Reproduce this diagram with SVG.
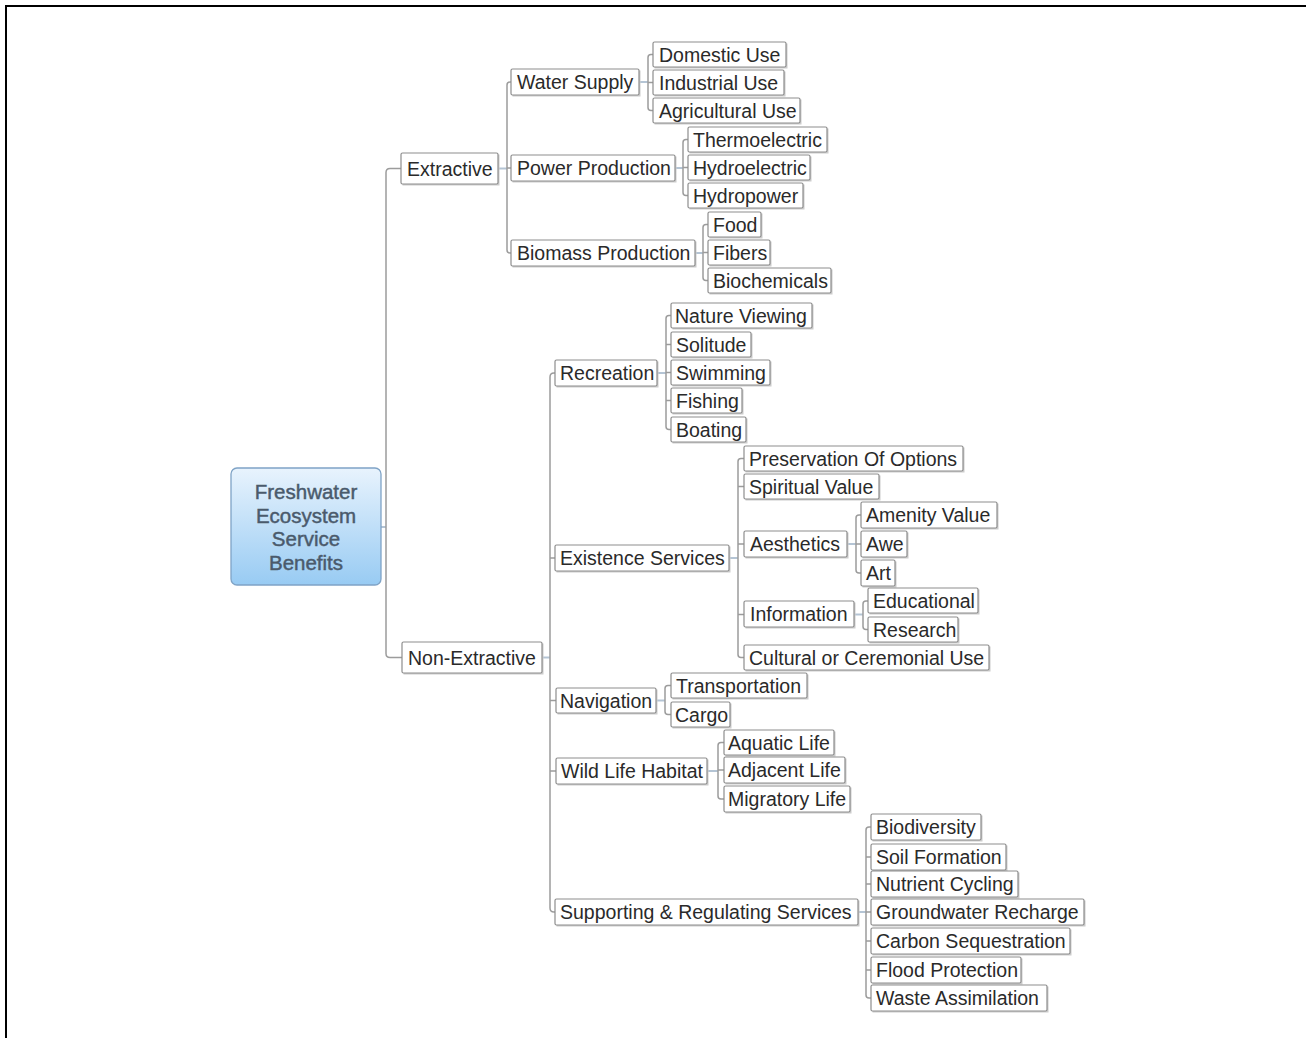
<svg xmlns="http://www.w3.org/2000/svg" width="1306" height="1038" viewBox="0 0 1306 1038">
<defs>
<linearGradient id="rootGrad" x1="0" y1="0" x2="0" y2="1">
<stop offset="0" stop-color="#e8f3fd"/>
<stop offset="1" stop-color="#98cbf3"/>
</linearGradient>
<style>
.sh{fill:#cccccc}
.bx{fill:#ffffff;stroke:#8e8e8e;stroke-width:1.2}
.t{font-family:"Liberation Sans",Arial,sans-serif;font-size:19.5px;fill:#2a2a2a}
.rt{font-family:"Liberation Sans",Arial,sans-serif;font-size:20.5px;fill:#4a5a6c;stroke:#4a5a6c;stroke-width:0.45;text-anchor:middle}
.c{fill:none;stroke:#9c9c9c;stroke-width:1.5}
.s{fill:none;stroke:#b4c4d4;stroke-width:2}
</style>
</defs>
<rect width="1306" height="1038" fill="#ffffff"/>
<path d="M6 1038 V6 H1306" fill="none" stroke="#000" stroke-width="2"/>

<g id="connectors">
<path class="s" d="M381 527 H386"/>
<path class="c" d="M401 168.5 H390 Q386 168.5 386 172.5 V653.5 Q386 657.5 390 657.5 H402"/>
<path class="s" d="M498 168.5 H507"/>
<path class="c" d="M511 82 H510 Q507 82 507 85 V250 Q507 253 510 253 H511 M507 168 H511"/>
<path class="s" d="M639 82 H648"/>
<path class="c" d="M653 54.5 H651 Q648 54.5 648 57.5 V107.5 Q648 110.5 651 110.5 H653 M648 82.5 H653"/>
<path class="s" d="M675 168 H683"/>
<path class="c" d="M688 139.5 H686 Q683 139.5 683 142.5 V192.5 Q683 195.5 686 195.5 H688 M683 167.5 H688"/>
<path class="s" d="M695 253 H703"/>
<path class="c" d="M708 224.5 H706 Q703 224.5 703 227.5 V277.5 Q703 280.5 706 280.5 H708 M703 252.5 H708"/>
<path class="s" d="M542 657.5 H550"/>
<path class="c" d="M555 373 H554 Q550 373 550 377 V908 Q550 912 554 912 H555 M550 558 H555 M550 700.5 H556 M550 771 H556"/>
<path class="s" d="M657 373 H666"/>
<path class="c" d="M671 315.5 H669 Q666 315.5 666 318.5 V426.5 Q666 429.5 669 429.5 H671 M666 344.5 H671 M666 372.5 H671 M666 400.5 H671"/>
<path class="s" d="M729 558 H738"/>
<path class="c" d="M744 458.5 H741 Q738 458.5 738 461.5 V654.5 Q738 657.5 741 657.5 H744 M738 486.5 H744 M738 544 H744 M738 614.5 H744"/>
<path class="s" d="M847 544 H856"/>
<path class="c" d="M861 515 H859 Q856 515 856 518 V570 Q856 573 859 573 H861 M856 544 H861"/>
<path class="s" d="M854 614.5 H863"/>
<path class="c" d="M868 601 H866 Q863 601 863 604 V626.5 Q863 629.5 866 629.5 H868"/>
<path class="s" d="M656 700.5 H665"/>
<path class="c" d="M671 685.5 H668 Q665 685.5 665 688.5 V711.5 Q665 714.5 668 714.5 H671"/>
<path class="s" d="M707 771 H718"/>
<path class="c" d="M724 742.5 H721 Q718 742.5 718 745.5 V796 Q718 799 721 799 H724 M718 770 H724"/>
<path class="s" d="M858 912 H866"/>
<path class="c" d="M871 827 H869 Q866 827 866 830 V995 Q866 998 869 998 H871 M866 857 H871 M866 884 H871 M866 912 H871 M866 941 H871 M866 970 H871"/>
</g>

<g id="root">
<rect x="231" y="468" width="150" height="117" rx="6" fill="url(#rootGrad)" stroke="#7fa3c6" stroke-width="1.3"/>
<text class="rt" x="306" y="499">Freshwater</text>
<text class="rt" x="306" y="522.5">Ecosystem</text>
<text class="rt" x="306" y="546">Service</text>
<text class="rt" x="306" y="569.5">Benefits</text>
</g>

<g id="n-extractive"><rect class="sh" x="402.5" y="154.5" width="97" height="31"/><rect class="bx" x="401" y="153" width="97" height="31" rx="1.5"/><text class="t" x="407" y="175.5">Extractive</text></g>
<g id="n-nonextractive"><rect class="sh" x="403.5" y="643.5" width="140" height="31"/><rect class="bx" x="402" y="642" width="140" height="31" rx="1.5"/><text class="t" x="408" y="664.5">Non-Extractive</text></g>

<g id="n-water"><rect class="sh" x="512.5" y="70.5" width="128" height="26"/><rect class="bx" x="511" y="69" width="128" height="26" rx="1.5"/><text class="t" x="517" y="89">Water Supply</text></g>
<g id="n-power"><rect class="sh" x="512.5" y="156.5" width="164" height="26"/><rect class="bx" x="511" y="155" width="164" height="26" rx="1.5"/><text class="t" x="517" y="175">Power Production</text></g>
<g id="n-biomass"><rect class="sh" x="512.5" y="241.5" width="184" height="26"/><rect class="bx" x="511" y="240" width="184" height="26" rx="1.5"/><text class="t" x="517" y="260">Biomass Production</text></g>

<g id="n-domestic"><rect class="sh" x="654.5" y="43.5" width="133" height="25"/><rect class="bx" x="653" y="42" width="133" height="25" rx="1.5"/><text class="t" x="659" y="61.5">Domestic Use</text></g>
<g id="n-industrial"><rect class="sh" x="654.5" y="71.5" width="131" height="25"/><rect class="bx" x="653" y="70" width="131" height="25" rx="1.5"/><text class="t" x="659" y="89.5">Industrial Use</text></g>
<g id="n-agricultural"><rect class="sh" x="654.5" y="99.5" width="147" height="25"/><rect class="bx" x="653" y="98" width="147" height="25" rx="1.5"/><text class="t" x="659" y="117.5">Agricultural Use</text></g>

<g id="n-thermo"><rect class="sh" x="689.5" y="128.5" width="139" height="25"/><rect class="bx" x="688" y="127" width="139" height="25" rx="1.5"/><text class="t" x="693" y="146.5">Thermoelectric</text></g>
<g id="n-hydroelectric"><rect class="sh" x="689.5" y="156.5" width="122" height="25"/><rect class="bx" x="688" y="155" width="122" height="25" rx="1.5"/><text class="t" x="693" y="174.5">Hydroelectric</text></g>
<g id="n-hydropower"><rect class="sh" x="689.5" y="184.5" width="115" height="25"/><rect class="bx" x="688" y="183" width="115" height="25" rx="1.5"/><text class="t" x="693" y="202.5">Hydropower</text></g>

<g id="n-food"><rect class="sh" x="709.5" y="213.5" width="53" height="25"/><rect class="bx" x="708" y="212" width="53" height="25" rx="1.5"/><text class="t" x="713" y="231.5">Food</text></g>
<g id="n-fibers"><rect class="sh" x="709.5" y="241.5" width="62" height="25"/><rect class="bx" x="708" y="240" width="62" height="25" rx="1.5"/><text class="t" x="713" y="259.5">Fibers</text></g>
<g id="n-biochemicals"><rect class="sh" x="709.5" y="269.5" width="123" height="25"/><rect class="bx" x="708" y="268" width="123" height="25" rx="1.5"/><text class="t" x="713" y="287.5">Biochemicals</text></g>

<g id="n-recreation"><rect class="sh" x="556.5" y="361.5" width="102" height="26"/><rect class="bx" x="555" y="360" width="102" height="26" rx="1.5"/><text class="t" x="560" y="380">Recreation</text></g>
<g id="n-nature"><rect class="sh" x="672.5" y="304.5" width="141" height="25"/><rect class="bx" x="671" y="303" width="141" height="25" rx="1.5"/><text class="t" x="675" y="322.5">Nature Viewing</text></g>
<g id="n-solitude"><rect class="sh" x="672.5" y="333.5" width="80" height="25"/><rect class="bx" x="671" y="332" width="80" height="25" rx="1.5"/><text class="t" x="676" y="351.5">Solitude</text></g>
<g id="n-swimming"><rect class="sh" x="672.5" y="361.5" width="99" height="25"/><rect class="bx" x="671" y="360" width="99" height="25" rx="1.5"/><text class="t" x="676" y="379.5">Swimming</text></g>
<g id="n-fishing"><rect class="sh" x="672.5" y="389.5" width="71" height="25"/><rect class="bx" x="671" y="388" width="71" height="25" rx="1.5"/><text class="t" x="676" y="407.5">Fishing</text></g>
<g id="n-boating"><rect class="sh" x="672.5" y="418.5" width="75" height="25"/><rect class="bx" x="671" y="417" width="75" height="25" rx="1.5"/><text class="t" x="676" y="436.5">Boating</text></g>

<g id="n-existence"><rect class="sh" x="556.5" y="546.5" width="174" height="26"/><rect class="bx" x="555" y="545" width="174" height="26" rx="1.5"/><text class="t" x="560" y="565">Existence Services</text></g>
<g id="n-preservation"><rect class="sh" x="745.5" y="447.5" width="219" height="25"/><rect class="bx" x="744" y="446" width="219" height="25" rx="1.5"/><text class="t" x="749" y="465.5">Preservation Of Options</text></g>
<g id="n-spiritual"><rect class="sh" x="745.5" y="475.5" width="135" height="25"/><rect class="bx" x="744" y="474" width="135" height="25" rx="1.5"/><text class="t" x="749" y="493.5">Spiritual Value</text></g>
<g id="n-aesthetics"><rect class="sh" x="745.5" y="532.5" width="103" height="26"/><rect class="bx" x="744" y="531" width="103" height="26" rx="1.5"/><text class="t" x="750" y="551">Aesthetics</text></g>
<g id="n-amenity"><rect class="sh" x="862.5" y="503.5" width="136" height="26"/><rect class="bx" x="861" y="502" width="136" height="26" rx="1.5"/><text class="t" x="866" y="522">Amenity Value</text></g>
<g id="n-awe"><rect class="sh" x="862.5" y="532.5" width="46" height="26"/><rect class="bx" x="861" y="531" width="46" height="26" rx="1.5"/><text class="t" x="866" y="551">Awe</text></g>
<g id="n-art"><rect class="sh" x="862.5" y="561.5" width="34" height="26"/><rect class="bx" x="861" y="560" width="34" height="26" rx="1.5"/><text class="t" x="866" y="580">Art</text></g>
<g id="n-information"><rect class="sh" x="745.5" y="602.5" width="110" height="26"/><rect class="bx" x="744" y="601" width="110" height="26" rx="1.5"/><text class="t" x="750" y="621">Information</text></g>
<g id="n-educational"><rect class="sh" x="869.5" y="589.5" width="110" height="25"/><rect class="bx" x="868" y="588" width="110" height="25" rx="1.5"/><text class="t" x="873" y="607.5">Educational</text></g>
<g id="n-research"><rect class="sh" x="869.5" y="618.5" width="90" height="25"/><rect class="bx" x="868" y="617" width="90" height="25" rx="1.5"/><text class="t" x="873" y="636.5">Research</text></g>
<g id="n-cultural"><rect class="sh" x="745.5" y="646.5" width="245" height="25"/><rect class="bx" x="744" y="645" width="245" height="25" rx="1.5"/><text class="t" x="749" y="664.5">Cultural or Ceremonial Use</text></g>

<g id="n-navigation"><rect class="sh" x="557.5" y="689.5" width="100" height="25"/><rect class="bx" x="556" y="688" width="100" height="25" rx="1.5"/><text class="t" x="560" y="707.5">Navigation</text></g>
<g id="n-transportation"><rect class="sh" x="672.5" y="674.5" width="136" height="25"/><rect class="bx" x="671" y="673" width="136" height="25" rx="1.5"/><text class="t" x="676" y="692.5">Transportation</text></g>
<g id="n-cargo"><rect class="sh" x="672.5" y="703.5" width="59" height="25"/><rect class="bx" x="671" y="702" width="59" height="25" rx="1.5"/><text class="t" x="675" y="721.5">Cargo</text></g>

<g id="n-wildlife"><rect class="sh" x="557.5" y="759.5" width="151" height="26"/><rect class="bx" x="556" y="758" width="151" height="26" rx="1.5"/><text class="t" x="561" y="778">Wild Life Habitat</text></g>
<g id="n-aquatic"><rect class="sh" x="725.5" y="731.5" width="110" height="25"/><rect class="bx" x="724" y="730" width="110" height="25" rx="1.5"/><text class="t" x="728" y="749.5">Aquatic Life</text></g>
<g id="n-adjacent"><rect class="sh" x="725.5" y="758.5" width="121" height="26"/><rect class="bx" x="724" y="757" width="121" height="26" rx="1.5"/><text class="t" x="728" y="777">Adjacent Life</text></g>
<g id="n-migratory"><rect class="sh" x="725.5" y="787.5" width="126" height="26"/><rect class="bx" x="724" y="786" width="126" height="26" rx="1.5"/><text class="t" x="728" y="806">Migratory Life</text></g>

<g id="n-supporting"><rect class="sh" x="556.5" y="900.5" width="303" height="26"/><rect class="bx" x="555" y="899" width="303" height="26" rx="1.5"/><text class="t" x="560" y="919">Supporting &amp; Regulating Services</text></g>
<g id="n-biodiversity"><rect class="sh" x="872.5" y="815.5" width="110" height="26"/><rect class="bx" x="871" y="814" width="110" height="26" rx="1.5"/><text class="t" x="876" y="834">Biodiversity</text></g>
<g id="n-soil"><rect class="sh" x="872.5" y="845.5" width="135" height="26"/><rect class="bx" x="871" y="844" width="135" height="26" rx="1.5"/><text class="t" x="876" y="864">Soil Formation</text></g>
<g id="n-nutrient"><rect class="sh" x="872.5" y="872.5" width="147" height="26"/><rect class="bx" x="871" y="871" width="147" height="26" rx="1.5"/><text class="t" x="876" y="891">Nutrient Cycling</text></g>
<g id="n-groundwater"><rect class="sh" x="872.5" y="900.5" width="213" height="26"/><rect class="bx" x="871" y="899" width="213" height="26" rx="1.5"/><text class="t" x="876" y="919">Groundwater Recharge</text></g>
<g id="n-carbon"><rect class="sh" x="872.5" y="929.5" width="199" height="26"/><rect class="bx" x="871" y="928" width="199" height="26" rx="1.5"/><text class="t" x="876" y="948">Carbon Sequestration</text></g>
<g id="n-flood"><rect class="sh" x="872.5" y="958.5" width="150" height="26"/><rect class="bx" x="871" y="957" width="150" height="26" rx="1.5"/><text class="t" x="876" y="977">Flood Protection</text></g>
<g id="n-waste"><rect class="sh" x="872.5" y="986.5" width="176" height="26"/><rect class="bx" x="871" y="985" width="176" height="26" rx="1.5"/><text class="t" x="876" y="1005">Waste Assimilation</text></g>
</svg>
